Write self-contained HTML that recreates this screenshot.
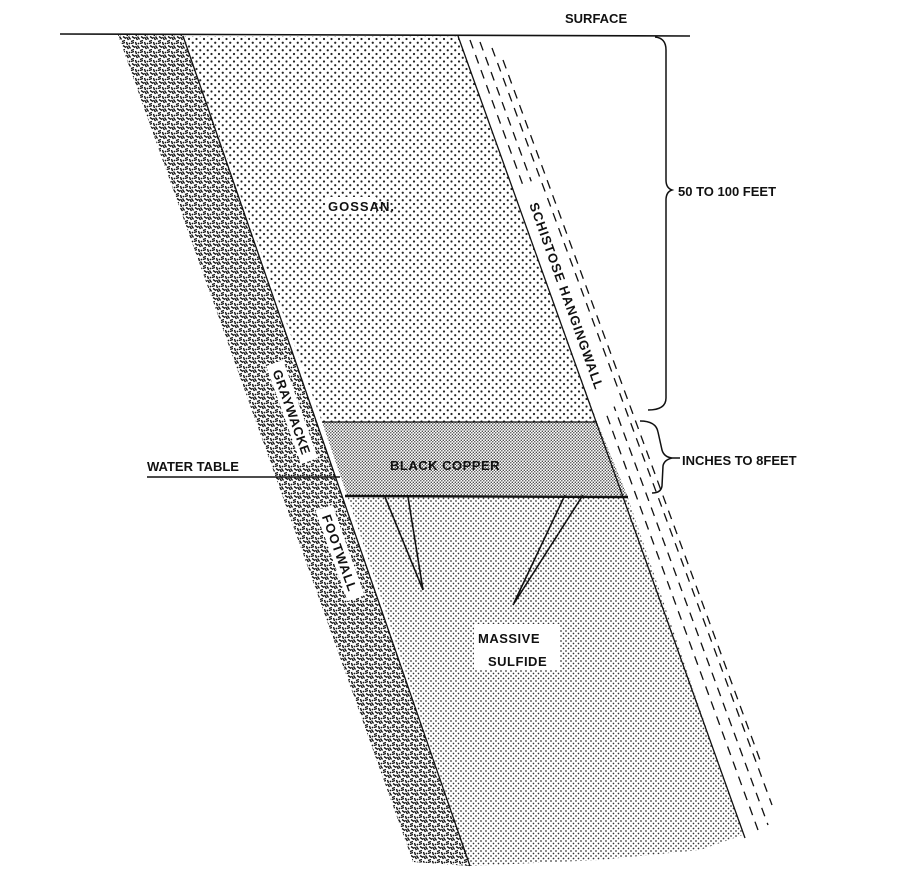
<!DOCTYPE html>
<html><head><meta charset="utf-8"><style>
html,body{margin:0;padding:0;background:#fff;}
svg{display:block;}
text{font-family:"Liberation Sans",sans-serif;font-weight:bold;fill:#111;}
</style></head><body>
<svg width="901" height="878" viewBox="0 0 901 878" xmlns="http://www.w3.org/2000/svg">
<defs>
<pattern id="gos" width="7.5" height="7.5" patternUnits="userSpaceOnUse">
<rect width="7.5" height="7.5" fill="#fff"/>
<circle cx="1.5" cy="1.5" r="1.1" fill="#222"/><circle cx="5.25" cy="5.25" r="1.1" fill="#222"/>
</pattern>
<pattern id="ms" width="5" height="5" patternUnits="userSpaceOnUse">
<rect width="5" height="5" fill="#fff"/>
<circle cx="1" cy="1" r="0.85" fill="#333"/><circle cx="3.5" cy="3.5" r="0.85" fill="#333"/>
</pattern>
<pattern id="bc" width="3" height="3" patternUnits="userSpaceOnUse">
<rect width="3" height="3" fill="#fff"/>
<circle cx="0.8" cy="0.8" r="0.75" fill="#444"/><circle cx="2.3" cy="2.3" r="0.75" fill="#444"/>
</pattern>
<pattern id="gw" width="9" height="9" patternUnits="userSpaceOnUse">
<rect width="9" height="9" fill="#fff"/>
<path d="M0.5 1 l2 3 M2.5 0.5 l2 3 M5 5.5 l3 -1 M5 7.5 l3 -1 M0.5 6 l1 3 M6 0.5 l3 2" stroke="#111" stroke-width="1.4"/>
<circle cx="3.5" cy="7.5" r="0.9" fill="#111"/>
</pattern>
</defs>

<polygon points="118,35 183,35 470,866 413,862" fill="url(#gw)"/>
<polygon points="183,36 458,36 597,422 322,422" fill="url(#gos)"/>
<polygon points="347,495 627,495 743,835 700,850 600,860 470,866" fill="url(#ms)"/>
<polygon points="322,422 597,422 627,495 347,495" fill="url(#bc)"/>
<line x1="60" y1="34" x2="690" y2="36" stroke="#111" stroke-width="1.6"/>
<line x1="183" y1="36" x2="470" y2="866" stroke="#111" stroke-width="1.3"/>
<line x1="458" y1="36" x2="745" y2="838" stroke="#111" stroke-width="1.3"/>
<line x1="322" y1="422" x2="597" y2="422" stroke="#111" stroke-width="1.3"/>
<line x1="345" y1="496" x2="628" y2="497" stroke="#111" stroke-width="2.4"/>
<line x1="147" y1="477" x2="340" y2="477" stroke="#111" stroke-width="1.4"/>
<path d="M385 497 L423 590 L408 497" fill="none" stroke="#111" stroke-width="1.6"/>
<path d="M565 495 L513 605 L583 495" fill="none" stroke="#111" stroke-width="1.6"/>
<g stroke="#111" stroke-width="1.3" stroke-dasharray="9 7">
<line x1="470" y1="40" x2="758" y2="830"/>
<line x1="480" y1="42" x2="768" y2="825"/>
<line x1="492" y1="48" x2="772" y2="805"/>
<line x1="503" y1="60" x2="760" y2="760"/>
</g>
<path d="M655 37 Q666 38 666 50 L666 180 Q666 188 672 190 Q666 192 666 200 L666 398 Q666 410 648 410" fill="none" stroke="#111" stroke-width="1.5"/>
<path d="M640 421 Q656 421 658 432 L662 450 Q664 457 672 458 Q664 460 663 466 L662 486 Q661 493 652 493" fill="none" stroke="#111" stroke-width="1.5"/>
<line x1="672" y1="458" x2="680" y2="458" stroke="#111" stroke-width="1.5"/>
<text x="565" y="23" font-size="13">SURFACE</text>
<rect x="326" y="197" width="50" height="17" fill="#fff"/>
<text x="328" y="211" font-size="13" letter-spacing="1">GOSSAN.</text>
<text x="678" y="196" font-size="13">50 TO 100 FEET</text>
<text x="682" y="465" font-size="13">INCHES TO 8FEET</text>
<text x="147" y="471" font-size="13">WATER TABLE</text>
<text x="390" y="470" font-size="13" letter-spacing="0.5">BLACK COPPER</text>
<rect x="474" y="624" width="86" height="46" fill="#fff"/>
<text x="478" y="643" font-size="13" letter-spacing="0.5">MASSIVE</text>
<text x="488" y="666" font-size="13" letter-spacing="0.5">SULFIDE</text>
<g transform="translate(567,296) rotate(70.4)">
<rect x="-120" y="-9" width="240" height="18" fill="#fff"/>
<text x="0" y="5" font-size="13" text-anchor="middle" letter-spacing="1">SCHISTOSE  HANGINGWALL</text>
</g>
<g transform="translate(292,412) rotate(70.4)">
<rect x="-52" y="-9" width="104" height="18" fill="#fff"/>
<text x="0" y="5" font-size="13" text-anchor="middle" letter-spacing="0.5">GRAYWACKE</text>
</g>
<g transform="translate(340,553) rotate(70.4)">
<rect x="-48" y="-9" width="96" height="18" fill="#fff"/>
<text x="0" y="5" font-size="13" text-anchor="middle" letter-spacing="1">FOOTWALL</text>
</g>
</svg>
</body></html>
